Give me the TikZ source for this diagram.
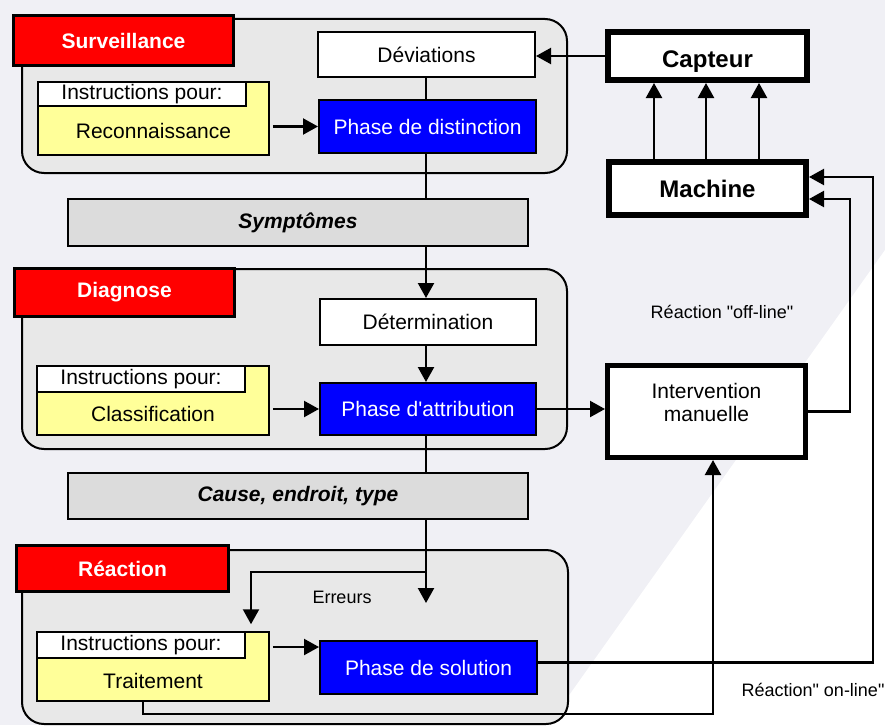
\documentclass[tikz,border=0pt]{standalone}
\usepackage{fontspec}
\newfontfamily\arial{Liberation Sans}
\usetikzlibrary{arrows.meta,calc}
\pgfdeclarelayer{bg}
\pgfdeclarelayer{lines}
\pgfsetlayers{bg,lines,main}
\definecolor{pagebg}{HTML}{F0F0F5}
\definecolor{groupfill}{HTML}{E8E8E8}
\definecolor{barfill}{HTML}{DCDCDC}
\definecolor{instrfill}{HTML}{FFFF99}
\definecolor{labelred}{HTML}{FF0000}
\definecolor{phaseblue}{HTML}{0000FF}
\tikzset{
  every node/.style={font=\arial\fontsize{21}{24}\selectfont, inner sep=0pt},
  groupbox/.style={draw, line width=2pt, fill=groupfill, rounded corners=22pt},
  redlabel/.style={draw, line width=3.5pt, fill=labelred, text=white, font=\arial\bfseries\fontsize{21}{24}\selectfont},
  instr/.style={draw, line width=1.5pt, fill=instrfill},
  tabbox/.style={draw, line width=1.5pt, fill=white, anchor=north west},
  whitebox/.style={draw, line width=2pt, fill=white},
  phase/.style={draw, line width=2pt, fill=phaseblue, text=white},
  heavybox/.style={draw, line width=6pt, fill=white},
  infobar/.style={draw, line width=2pt, fill=barfill, font=\arial\bfseries\itshape\fontsize{21}{24}\selectfont},
  smalltext/.style={font=\arial\fontsize{18}{21}\selectfont},
  arr/.style={line width=2.2pt, -{Triangle[length=15pt,width=16pt]}},
  conn/.style={line width=2.2pt}
}
\begin{document}
\begin{tikzpicture}[x=1pt,y=-1pt]
\useasboundingbox (0,0) rectangle (885,725);
\begin{pgfonlayer}{bg}
\fill[pagebg] (0,0) rectangle (885,725);
\fill[white] (885,250) -- (885,725) -- (548,725) -- cycle;
\node[groupbox, minimum width=545, minimum height=154] (g1) at (294.5,96) {};
\node[groupbox, minimum width=545, minimum height=180] (g2) at (294.5,359) {};
\node[groupbox, minimum width=546, minimum height=174] (g3) at (295,637) {};
\end{pgfonlayer}

% Surveillance
\node[redlabel, minimum width=220, minimum height=50] (s1) at (123.5,40.5) {Surveillance};
\node[instr, minimum width=231, minimum height=73] (y1) at (153.5,118.5) {};
\node[tabbox, minimum width=208, minimum height=24] (t1) at (y1.north west) {Instructions pour:};
\node (n1) at ($(y1.south)+(0,-24.5)$) {Reconnaissance};
\node[whitebox, minimum width=217, minimum height=45] (d1) at (426.5,54.5) {Déviations};
\node[phase, minimum width=217, minimum height=53] (p1) at (427.5,126.5) {Phase de distinction};

\node[heavybox, minimum width=199, minimum height=48, text height=22.5pt, text depth=0pt, font=\arial\bfseries\fontsize{24}{28}\selectfont] (cap) at (707.5,56) {Capteur};
\node[heavybox, minimum width=197, minimum height=53, font=\arial\bfseries\fontsize{24}{28}\selectfont] (mach) at (707.5,188.5) {Machine};

\node[infobar, minimum width=460, minimum height=47] (b1) at (298,222.5) {Symptômes};

% Diagnose
\node[redlabel, minimum width=220, minimum height=48] (s2) at (124.5,292.5) {Diagnose};
\node[instr, minimum width=232, minimum height=69] (y2) at (153,400.5) {};
\node[tabbox, minimum width=208, minimum height=26] (t2) at (y2.north west) {Instructions pour:};
\node (n2) at ($(y2.south)+(0,-22)$) {Classification};
\node[whitebox, minimum width=216, minimum height=46] (d2) at (428,322) {Détermination};
\node[phase, minimum width=216, minimum height=52] (p2) at (428,409) {Phase d'attribution};

\node[heavybox, line width=5pt, minimum width=198, minimum height=92] (iv) at (706.5,411.5) {};
\node[align=center, font=\arial\fontsize{21}{23}\selectfont] (ivtext) at ($(iv.center)+(0,-9)$) {Intervention\\manuelle};

\node[infobar, minimum width=460, minimum height=46] (b2) at (298,496) {Cause, endroit, type};

% Reaction
\node[redlabel, minimum width=212, minimum height=46] (s3) at (122.5,568.5) {Réaction};
\node[instr, minimum width=232, minimum height=69] (y3) at (153,666.5) {};
\node[tabbox, minimum width=208, minimum height=26] (t3) at (y3.north west) {Instructions pour:};
\node (n3) at ($(y3.south)+(0,-21)$) {Traitement};
\node[phase, minimum width=217, minimum height=53] (p3) at (428.5,667.5) {Phase de solution};

% free labels
\node[smalltext] (offl) at (722,312) {Réaction "off-line"};
\node[smalltext] (err) at (342,597) {Erreurs};
\node[smalltext] (onl) at (813,690) {Réaction" on-line"};

% helper coordinates
\coordinate (mlow) at ($(mach.east)+(0,10.5)$);
\coordinate (mhigh) at ($(mach.east)+(0,-11.5)$);
\coordinate (xoff) at (850,0);
\coordinate (xon) at (873,0);
\coordinate (solout) at ($(p3.east)+(0,-5)$);
\coordinate (tb) at ($(y3.south)+(-10,0)$);
\coordinate (ivin) at ($(iv.south)+(6.5,0)$);
\coordinate (ybot) at (0,714);
\coordinate (erry) at (0,603);
\coordinate (branchy) at (0,572);
\coordinate (tabx) at (251,0);
\coordinate (solin) at ($(p3.west)+(0,-20.5)$);
\coordinate (vx) at (426,0);

\begin{pgfonlayer}{lines}
\draw[arr] (cap.west) -- (cap.west -| d1.east);
\draw[arr, shorten <=3pt] (y1.east |- p1.west) -- (p1.west);
\draw[conn] (vx |- d1.south) -- (vx |- p1.north);
\draw[arr] (vx |- p1.south) -- (vx |- d2.north);
\draw[arr] (vx |- d2.south) -- (vx |- p2.north);
\draw[arr, shorten <=3pt] (y2.east |- p2.west) -- (p2.west);
\draw[arr] (p2.east) -- (p2.east -| iv.west);
\draw[arr] (iv.east) -- (iv.east -| xoff) -- (xoff |- mlow) -- (mlow);
\draw[arr] (solout) -- (solout -| xon) -- (xon |- mhigh) -- (mhigh);
\foreach \dx in {-53.5,-1.5,51.5}
  \draw[arr] ($(mach.north)+(\dx,0)$) -- ($(cap.south)+(\dx,0)$);
\draw[arr] (tb) -- (tb |- ybot) -- (ivin |- ybot) -- (ivin);
\draw[arr] (vx |- p2.south) -- (vx |- erry);
\draw[arr, shorten >=7pt] (vx |- branchy) -- (tabx |- branchy) -- (tabx |- y3.north);
\draw[arr, shorten <=3pt] (y3.east |- solin) -- (solin);
\end{pgfonlayer}
\end{tikzpicture}
\end{document}
